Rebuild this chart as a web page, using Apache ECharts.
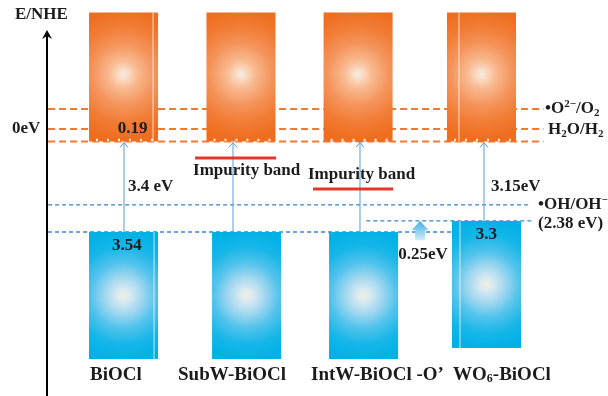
<!DOCTYPE html>
<html><head><meta charset="utf-8">
<script src="https://cdn.jsdelivr.net/npm/echarts@6/dist/echarts.min.js"></script>
<style>html,body{margin:0;padding:0;background:#fff}#c{width:608px;height:396px}</style>
</head><body><div id="c"></div>
<script>
// ---------- data (schematic E/NHE levels in eV, as drawn) ----------
const categories = ['BiOCl', 'SubW-BiOCl', 'IntW-BiOCl -O\u2019', 'WO6-BiOCl'];
const cbTop = [-4.0, -4.0, -4.0, -4.0];
const cbBottom = [0.43, 0.43, 0.43, 0.43];
const vbTop = [3.54, 3.54, 3.54, 3.16];
const vbBottom = [7.9, 7.9, 7.9, 7.53];
const impurityLevel = [null, 1.0, 2.06, null];
const gapLabels = ['3.4 eV', '', '', '3.15eV'];
const cbValueLabels = ['0.19', '', '', ''];
const vbValueLabels = ['3.54', '', '', '3.3'];
const redoxLevels = [-0.69, 0, 0.43];      // •O2-/O2, H2O/H2 (0 eV), CB edge line
const ohLevel = 2.61;                       // •OH/OH- (2.38 eV)
const shiftLabel = '0.25eV';

// ---------- layout ----------
const X_MIN = -0.643, X_MAX = 4.071, Y_MIN = -3.40, Y_MAX = 9.175;
const HW = 0.29;
const cbShift = [0, -0.013, -0.029, 0.008];
const vbShift = [0, 0.034, 0.017, 0.05];
const FONT = 'bold 17px "Liberation Serif", "Times New Roman", serif';
const CAT_FONT = 'bold 19px "Liberation Serif", "Times New Roman", serif';
const TXT = '#1c1c1c';

function orangeFill() {
  return new echarts.graphic.RadialGradient(0.5, 0.48, 0.95, [
    {offset: 0, color: '#ecefe8'}, {offset: 0.07, color: '#fbdcc6'},
    {offset: 0.22, color: '#f8b98f'}, {offset: 0.48, color: '#f4935a'},
    {offset: 0.75, color: '#f17b33'}, {offset: 1, color: '#ee6d1f'}]);
}
function blueFill() {
  return new echarts.graphic.RadialGradient(0.5, 0.5, 0.95, [
    {offset: 0, color: '#f2efdc'}, {offset: 0.1, color: '#d8e9f2'},
    {offset: 0.28, color: '#a2d7ef'}, {offset: 0.5, color: '#52c3ec'},
    {offset: 0.75, color: '#16b6e8'}, {offset: 1, color: '#00b1e5'}]);
}

const bandData = [];
categories.forEach((c, i) => {
  bandData.push([i + cbShift[i], cbTop[i], cbBottom[i], 0, i]);
  bandData.push([i + vbShift[i], vbTop[i], vbBottom[i], 1, i]);
});
// thin light line: offset px from right (>0) or left (<0) edge, per [orange, blue]
const stripe = [[5, 4], [0, 0], [0, 0], [-12, -8]];

function renderBand(params, api) {
  const x = api.value(0), t = api.value(1), b = api.value(2), kind = api.value(3), i = api.value(4);
  const p1 = api.coord([x - HW, t]), p2 = api.coord([x + HW, b]);
  const w = p2[0] - p1[0], h = p2[1] - p1[1];
  const children = [{type: 'rect', shape: {x: p1[0], y: p1[1], width: w, height: h},
    style: {fill: kind === 0 ? orangeFill() : blueFill()}}];
  const s = stripe[i][kind];
  if (s !== 0) {
    const lx = s > 0 ? p2[0] - s : p1[0] - s;
    children.push({type: 'line', shape: {x1: lx, y1: p1[1], x2: lx, y2: p2[1]},
      style: {stroke: 'rgba(255,255,255,0.75)', lineWidth: 1}});
  }
  if (kind === 0) {
    // notches of the dashed CB-edge line along the band bottom
    children.push({type: 'line', shape: {x1: p1[0] + 7, y1: p2[1] - 1.5, x2: p2[0], y2: p2[1] - 1.5},
      style: {stroke: 'rgba(255,255,255,0.85)', lineWidth: 2.5, lineDash: [2, 9]}});
  }
  return {type: 'group', children};
}

// dashed lines: [level, x1, x2, kind]
const dashData = [
  [redoxLevels[0], -0.634, 3.53, 0],
  [redoxLevels[1], -0.634, 3.53, 0],
  [redoxLevels[2], -0.634, 3.53, 0],
  [ohLevel, -0.634, 3.416, 1],
  [vbTop[0], -0.634, 2.76, 1],
  [vbTop[3], 2.04, 3.43, 1]
];
function renderDash(params, api) {
  const y = api.value(0), a = api.coord([api.value(1), y]), b = api.coord([api.value(2), y]);
  const orange = api.value(3) === 0;
  return {type: 'line', shape: {x1: a[0], y1: a[1], x2: b[0], y2: b[1]},
    style: {stroke: orange ? '#f07a32' : '#3d82d4', lineWidth: orange ? 2 : 1.3,
      lineDash: orange ? [7, 4] : [4, 3]}};
}

// excitation arrows
const arrowX = [0.004, 0.92, 1.987, 3.029];
const arrowData = categories.map((c, i) => [arrowX[i], vbTop[i], cbBottom[i]]);
function renderArrow(params, api) {
  const a = api.coord([api.value(0), api.value(1)]), b = api.coord([api.value(0), api.value(2)]);
  return {type: 'group', children: [
    {type: 'line', shape: {x1: a[0], y1: a[1], x2: b[0], y2: b[1] + 1}, style: {stroke: '#5b9bd5', lineWidth: 1}},
    {type: 'polyline', shape: {points: [[b[0] - 4, b[1] + 6], [b[0], b[1] + 1], [b[0] + 4, b[1] + 6]]},
      style: {stroke: '#5b9bd5', lineWidth: 1, fill: null}}
  ]};
}

// impurity bands
const impExtent = [null, [0.601, 1.282], [1.592, 2.265], null];
const impData = [];
impurityLevel.forEach((v, i) => { if (v != null) impData.push([impExtent[i][0], impExtent[i][1], v]); });
function renderImp(params, api) {
  const a = api.coord([api.value(0), api.value(2)]), b = api.coord([api.value(1), api.value(2)]);
  return {type: 'line', shape: {x1: a[0], y1: a[1], x2: b[0], y2: b[1]}, style: {stroke: '#e8342b', lineWidth: 3}};
}

// VB shift arrow (0.25 eV)
const shiftData = [[2.492, vbTop[0] + 0.28, vbTop[3]]];
function renderShift(params, api) {
  const x = api.value(0);
  const a = api.coord([x, api.value(1)]), b = api.coord([x, api.value(2)]);
  const cx = a[0];
  return {type: 'polygon', shape: {points: [
    [cx - 5, a[1]], [cx - 5, b[1] + 9], [cx - 8.5, b[1] + 9], [cx, b[1]], [cx + 8.5, b[1] + 9], [cx + 5, b[1] + 9], [cx + 5, a[1]]]},
    style: {fill: new echarts.graphic.LinearGradient(0, 0, 0, 1, [{offset: 0, color: '#3fafe8'}, {offset: 1, color: '#d2ecf8'}])}};
}

// axis
function renderAxis(params, api) {
  const a = api.coord([X_MIN, Y_MAX]), b = api.coord([X_MIN, Y_MIN]);
  return {type: 'group', children: [
    {type: 'line', shape: {x1: a[0], y1: a[1], x2: b[0], y2: b[1] + 2}, style: {stroke: '#000', lineWidth: 2}},
    {type: 'polygon', shape: {points: [[b[0], b[1]], [b[0] - 5, b[1] + 9], [b[0], b[1] + 6], [b[0] + 5, b[1] + 9]]},
      style: {fill: '#000'}}
  ]};
}

// texts: [x, y, text, align]
const rich = {
  sup: {font: 'bold 11px "Liberation Serif", serif', verticalAlign: 'top', lineHeight: 20, fill: TXT},
  sub: {font: 'bold 11px "Liberation Serif", serif', verticalAlign: 'bottom', lineHeight: 14, padding: [7, 0, 0, 0], fill: TXT},
  n: {font: FONT, lineHeight: 20, fill: TXT}
};
const catRich = {
  n: {font: CAT_FONT, fill: TXT, lineHeight: 22},
  sub: {font: 'bold 12px "Liberation Serif", serif', fill: TXT, padding: [9, 0, 0, 0], lineHeight: 14}
};
const catLabelX = [-0.282, 0.458, 1.576, 2.769];
const textItems = [
  [-0.912, -3.92, 'E/NHE', 'left'],
  [-0.819, 0, '0eV', 'center'],
  [0.076, 0, cbValueLabels[0], 'center'],
  [0.038, 1.99, gapLabels[0], 'left'],
  [3.088, 1.99, gapLabels[3], 'left'],
  [0.584, 1.44, 'Impurity band', 'left'],
  [1.55, 1.58, 'Impurity band', 'left'],
  [0.029, 4.02, vbValueLabels[0], 'center'],
  [3.05, 3.64, vbValueLabels[3], 'center'],
  [2.517, 4.33, shiftLabel, 'center'],
  [3.542, redoxLevels[0], '{n|\u2022O}{sup|2\u2212}{n|/O}{sub|2}', 'left'],
  [3.567, redoxLevels[1] + 0.03, '{n|H}{sub|2}{n|O/H}{sub|2}', 'left'],
  [3.483, ohLevel, '{n|\u2022OH/OH}{sup|\u2212}', 'left'],
  [3.483, 3.26, '(2.38 eV)', 'left']
];
function renderText(params, api) {
  const it = textItems[params.dataIndex];
  const p = api.coord([it[0], it[1]]);
  const isRich = it[2].indexOf('{') === 0;
  return {type: 'text', x: p[0], y: p[1], style: {
    text: it[2], font: FONT, fill: TXT, align: it[3], verticalAlign: 'middle',
    rich: isRich ? rich : undefined}};
}
const catTexts = categories.map(c => c === 'WO6-BiOCl' ? '{n|WO}{sub|6}{n|-BiOCl}' : '{n|' + c + '}');
function renderCat(params, api) {
  const i = params.dataIndex;
  const p = api.coord([catLabelX[i], 8.45]);
  return {type: 'text', x: p[0], y: p[1], style: {text: catTexts[i], rich: catRich, font: CAT_FONT,
    fill: TXT, align: 'left', verticalAlign: 'middle'}};
}

const chart = echarts.init(document.getElementById('c'), null, {renderer: 'canvas'});
chart.setOption({
  animation: false,
  backgroundColor: '#fff',
  grid: {left: 47, right: 0, top: 30, bottom: 0},
  xAxis: {type: 'value', min: X_MIN, max: X_MAX, show: false},
  yAxis: {type: 'value', min: Y_MIN, max: Y_MAX, inverse: true, show: false},
  series: [
    {type: 'custom', renderItem: renderDash, data: dashData, z: 1, clip: false},
    {type: 'custom', renderItem: renderBand, data: bandData, z: 2, clip: false},
    {type: 'custom', renderItem: renderArrow, data: arrowData, z: 3, clip: false},
    {type: 'custom', renderItem: renderImp, data: impData, z: 3, clip: false},
    {type: 'custom', renderItem: renderShift, data: shiftData, z: 3, clip: false},
    {type: 'custom', renderItem: renderAxis, data: [[0]], z: 4, clip: false},
    {type: 'custom', renderItem: renderText, data: textItems.map((t, i) => [i]), z: 5, clip: false},
    {type: 'custom', renderItem: renderCat, data: categories.map((c, i) => [i]), z: 5, clip: false}
  ]
});
</script></body></html>
